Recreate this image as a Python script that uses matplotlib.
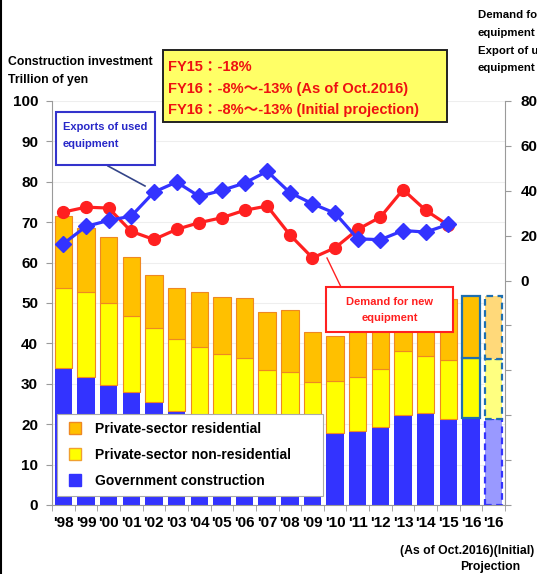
import numpy as np
import matplotlib
matplotlib.use("Agg")
import matplotlib.pyplot as plt
from matplotlib.patches import Rectangle
from matplotlib.lines import Line2D

plt.rcParams['font.family'] = ['Liberation Sans', 'Noto Sans CJK JP', 'DejaVu Sans']
plt.rcParams['font.weight'] = 'bold'

# ---------------- data ----------------
years = ["'98", "'99", "'00", "'01", "'02", "'03", "'04", "'05", "'06", "'07",
         "'08", "'09", "'10", "'11", "'12", "'13", "'14", "'15", "'16", "'16"]
government = [33.8, 31.8, 29.7, 27.9, 25.6, 23.3, 22.0, 21.0, 20.0, 18.5,
              18.0, 19.5, 17.7, 18.3, 19.4, 22.3, 22.7, 21.3, 21.5, 21.4]
private_nonres = [20.0, 20.8, 20.4, 18.9, 18.1, 17.8, 17.1, 16.3, 16.3, 14.9,
                  15.0, 11.0, 13.1, 13.5, 14.2, 15.8, 14.2, 14.6, 15.0, 14.7]
private_res = [17.7, 16.0, 16.2, 14.5, 13.2, 12.7, 13.7, 14.3, 15.0, 14.3,
               15.2, 12.4, 11.1, 11.5, 11.7, 13.0, 11.6, 15.1, 15.3, 15.7]
new_demand = [30.5, 32.7, 32.3, 21.9, 18.3, 22.8, 25.8, 28.0, 31.3, 33.2,
              20.4, 10.1, 14.6, 22.8, 28.3, 40.5, 31.3, 24.6]
used_exports = [16.4, 24.1, 26.8, 28.7, 39.4, 43.9, 37.5, 40.2, 43.4, 48.7,
                39.2, 34.2, 30.0, 18.6, 18.2, 22.3, 21.6, 25.0]
legend_labels = ["Private-sector residential", "Private-sector non-residential",
                 "Government construction"]

# ---------------- style ----------------
W, H = 537, 574
ORANGE = '#FFC000'
ORANGE_EDGE = '#EE8822'
YELLOW = '#FFFF00'
BLUE = '#3333FF'
RED = '#FF2020'
TEAL = '#1F6FB0'
GRAY = '#9A9A9A'

def fx(x):
    return x / W

def fy(y):
    return 1 - y / H

fig = plt.figure(figsize=(W / 100, H / 100), dpi=100)
ax = fig.add_axes([fx(52), fy(505), 453 / W, 404 / H])

x = np.arange(len(years))
gov = np.array(government)
non = np.array(private_nonres)
res = np.array(private_res)
bw = 0.77

b_gov = ax.bar(x, gov, bw, color=BLUE, edgecolor='none', zorder=2)
b_non = ax.bar(x, non, bw, bottom=gov, color=YELLOW, edgecolor=ORANGE_EDGE,
               linewidth=0.8, zorder=2)
b_res = ax.bar(x, res, bw, bottom=gov + non, color=ORANGE, edgecolor=ORANGE_EDGE,
               linewidth=0.8, zorder=2)

# FY16 (As of Oct. 2016)
for b in (b_non[18], b_res[18]):
    b.set_edgecolor(TEAL)
    b.set_linewidth(1.6)
# FY16 initial projection (lighter, dashed)
b_res[19].set_facecolor('#FFD97A'); b_res[19].set_edgecolor(TEAL)
b_non[19].set_facecolor('#FFFF80'); b_non[19].set_edgecolor(TEAL)
b_gov[19].set_facecolor('#9999FF'); b_gov[19].set_edgecolor(BLUE)
for b in (b_res[19], b_non[19], b_gov[19]):
    b.set_linestyle((0, (3, 2)))
    b.set_linewidth(1.6)

ax.set_xlim(-0.5, len(years) - 0.5)
ax.set_ylim(0, 100)
ax.set_yticks(np.arange(0, 101, 10))
ax.yaxis.grid(True, color='#EEEEEE', linewidth=0.8, zorder=0)
ax.set_axisbelow(True)
ax.set_xticks(x)
ax.set_xticklabels(years)
ax.set_xticks(np.arange(-0.5, len(years), 1), minor=True)
ax.tick_params(axis='x', which='major', length=0, pad=8, labelsize=11)
ax.tick_params(axis='x', which='minor', length=4, color=GRAY, direction='out')
ax.tick_params(axis='y', length=4, color=GRAY, pad=6, labelsize=11)
for s in ('top', 'right'):
    ax.spines[s].set_visible(False)
for s in ('left', 'bottom'):
    ax.spines[s].set_color(GRAY)
for t in ax.get_xticklabels() + ax.get_yticklabels():
    t.set_fontweight('bold')

# legend
handles = [
    Line2D([], [], marker='s', linestyle='none', markersize=8.5,
           markerfacecolor=ORANGE, markeredgecolor=ORANGE_EDGE, markeredgewidth=1),
    Line2D([], [], marker='s', linestyle='none', markersize=8.5,
           markerfacecolor=YELLOW, markeredgecolor='#F0A030', markeredgewidth=1),
    Line2D([], [], marker='s', linestyle='none', markersize=8.5,
           markerfacecolor=BLUE, markeredgecolor=BLUE, markeredgewidth=1),
]
leg = ax.legend(handles, legend_labels, loc='upper left', mode='expand',
                bbox_to_anchor=(5 / 453, 0.02, 266 / 453, (505 - 414) / 404 - 0.02),
                borderaxespad=0, fancybox=False, framealpha=1,
                edgecolor='#AAAAAA', prop={'size': 10, 'weight': 'bold'},
                handlelength=1.4, handletextpad=0.75, labelspacing=0.85,
                borderpad=0.6)
leg.get_frame().set_linewidth(0.8)
leg.set_zorder(10)

# right axis lines
ax2 = ax.twinx()
ax2.set_ylim(-100, 80)
xl = np.arange(len(new_demand))
ax2.plot(xl, new_demand, color=RED, linewidth=2.3, marker='o', markersize=8.5,
         markerfacecolor=RED, markeredgecolor=RED, zorder=3)
ax2.plot(xl, used_exports, color=BLUE, linewidth=2.3, marker='D', markersize=8.5,
         markerfacecolor=BLUE, markeredgecolor=BLUE, zorder=4)
rt = np.arange(-100, 81, 20)
ax2.set_yticks(rt)
ax2.set_yticklabels([str(v) if v >= 0 else '' for v in rt])
ax2.tick_params(axis='y', length=4, color=GRAY, pad=7, labelsize=11)
for t in ax2.get_yticklabels():
    t.set_fontweight('bold')
for s in ('top', 'left', 'bottom'):
    ax2.spines[s].set_visible(False)
ax2.spines['right'].set_color(GRAY)

# ---------------- annotations ----------------
def box(x0, y0, x1, y1, fc, ec, lw=1.5):
    r = Rectangle((fx(x0), fy(y1)), fx(x1) - fx(x0), fy(y0) - fy(y1),
                  transform=fig.transFigure, facecolor=fc, edgecolor=ec,
                  linewidth=lw, zorder=20)
    fig.add_artist(r)

def seg(x0, y0, x1, y1, color, lw=1.0):
    fig.add_artist(Line2D([fx(x0), fx(x1)], [fy(y0), fy(y1)],
                          transform=fig.transFigure, color=color,
                          linewidth=lw, zorder=19))

# titles
fig.text(fx(8), fy(62), 'Construction investment', fontsize=8.8,
         fontweight='bold', va='center', ha='left')
fig.text(fx(8), fy(80), 'Trillion of yen', fontsize=8.8,
         fontweight='bold', va='center', ha='left')
for yy, s in zip([15, 33, 51, 68],
                 ['Demand for new', 'equipment', 'Export of used', 'equipment']):
    fig.text(fx(478), fy(yy), s, fontsize=8.2, fontweight='bold',
             va='center', ha='left')

# yellow box
box(163, 50, 447, 122, '#FFFF66', '#222222', 1.4)
for yy, s in zip([67, 89, 110],
                 ['FY15：-18%', 'FY16：-8%〜-13% (As of Oct.2016)',
                  'FY16：-8%〜-13% (Initial projection)']):
    fig.text(fx(168), fy(yy), s, fontsize=10.5, fontweight='bold',
             color='#EE1111', va='center', ha='left', zorder=21)

# exports box
seg(108, 166, 145, 186, '#334488', 1.2)
box(56, 112, 155, 165, 'white', '#3333CC', 1.5)
for yy, s in zip([127, 144], ['Exports of used', 'equipment']):
    fig.text(fx(63), fy(yy), s, fontsize=8.0, fontweight='bold',
             color='#2828C8', va='center', ha='left', zorder=21)

# demand box
seg(327, 258, 341, 287, RED, 1.0)
box(326, 287, 453, 332, 'white', RED, 1.5)
for yy, s in zip([302, 318], ['Demand for new', 'equipment']):
    fig.text(fx(389.5), fy(yy), s, fontsize=8, fontweight='bold',
             color=RED, va='center', ha='center', zorder=21)

# bottom notes
fig.text(fx(534), fy(551), '(As of Oct.2016)(Initial)', fontsize=8.8,
         fontweight='bold', va='center', ha='right')
fig.text(fx(490), fy(567), 'Projection', fontsize=8.8,
         fontweight='bold', va='center', ha='center')

# left border line
fig.add_artist(Line2D([fx(1), fx(1)], [0, 1], transform=fig.transFigure,
                      color='black', linewidth=1.5))

fig.savefig('out.png', dpi=100)
